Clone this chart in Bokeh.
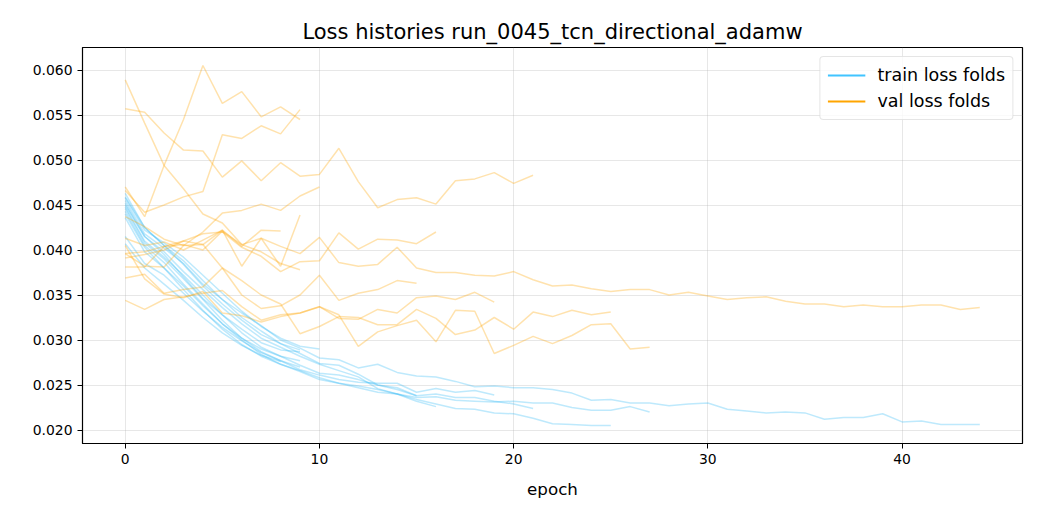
from bokeh.plotting import figure
from bokeh.models import Range1d, FixedTicker, PrintfTickFormatter, Legend, LegendItem
from bokeh.embed import file_html
from bokeh.resources import INLINE

title_text = "Loss histories run_0045_tcn_directional_adamw"
x_label = "epoch"
train_label = "train loss folds"
val_label = "val loss folds"
x_ticks = [0, 10, 20, 30, 40]
y_ticks = [0.020, 0.025, 0.030, 0.035, 0.040, 0.045, 0.050, 0.055, 0.060]

# ---- per-fold training loss ----
train_A = [0.0463, 0.0425, 0.0405, 0.0384, 0.0360, 0.0340, 0.0322, 0.0306, 0.0296, 0.0289]
train_B = [0.0448, 0.0410, 0.0392, 0.0372, 0.0350, 0.0328, 0.0308, 0.0292, 0.0282, 0.0272,
           0.0263, 0.0261, 0.0256, 0.0250, 0.0247, 0.0238, 0.0240, 0.0236, 0.0236, 0.0232,
           0.0229, 0.0224]
train_C = [0.0415, 0.0385, 0.0372, 0.0352, 0.0332, 0.0314, 0.0299, 0.0286, 0.0277, 0.0270]
train_D = [0.0436, 0.0398, 0.0380, 0.0360, 0.0338, 0.0318, 0.0302, 0.0290, 0.0282, 0.0277]
train_E = [0.0458, 0.0422, 0.0408, 0.0392, 0.0372, 0.0352, 0.0332, 0.0315, 0.0302, 0.0293, 0.0290]
train_F = [0.0407, 0.0380, 0.0362, 0.0344, 0.0325, 0.0308, 0.0294, 0.0283, 0.0276]
train_G = [0.0450, 0.0415, 0.0395, 0.0370, 0.0346, 0.0328, 0.0312, 0.0297, 0.0289, 0.0287]
train_H = [0.0452, 0.0415, 0.0398, 0.0376, 0.0356, 0.0336, 0.0318, 0.0302, 0.0292, 0.0282,
           0.0273, 0.0266, 0.0259, 0.0246, 0.0240, 0.0232, 0.0226]
train_I = [0.0455, 0.0418, 0.0402, 0.0385, 0.0362, 0.0345, 0.0330, 0.0316, 0.0300, 0.0291,
           0.0280, 0.0278, 0.0269, 0.0273, 0.0264, 0.0260, 0.0259, 0.0254, 0.0248, 0.0249,
           0.0247, 0.0247, 0.0245, 0.0241, 0.0233, 0.0234, 0.0230, 0.0230, 0.0227, 0.0229,
           0.0230, 0.0223, 0.0221, 0.0219, 0.0220, 0.0219, 0.0212, 0.0214, 0.0214, 0.0218,
           0.0209, 0.0210, 0.0206, 0.0206, 0.0206]
train_J = [0.0443, 0.0405, 0.0386, 0.0362, 0.0340, 0.0318, 0.0300, 0.0284, 0.0273, 0.0265,
           0.0256, 0.0252, 0.0247, 0.0242, 0.0240, 0.0236, 0.0237, 0.0233, 0.0232, 0.0231,
           0.0232, 0.0230, 0.0230, 0.0225, 0.0222, 0.0222, 0.0226, 0.0220]
train_K = [0.0440, 0.0403, 0.0380, 0.0356, 0.0333, 0.0312, 0.0295, 0.0282, 0.0273, 0.0266,
           0.0258, 0.0252, 0.0249, 0.0245, 0.0240, 0.0234, 0.0229, 0.0224, 0.0223, 0.0219,
           0.0218, 0.0213, 0.0207, 0.0206, 0.0205, 0.0205]
train_L = [0.0459, 0.0425, 0.0405, 0.0388, 0.0366, 0.0345, 0.0325, 0.0310, 0.0296, 0.0285,
           0.0274, 0.0272, 0.0262, 0.0250, 0.0245, 0.0238]
train_M = [0.0446, 0.0408, 0.0390, 0.0368, 0.0345, 0.0322, 0.0302, 0.0287, 0.0277, 0.0267,
           0.0261, 0.0256, 0.0253, 0.0252, 0.0252, 0.0242, 0.0246, 0.0242, 0.0244, 0.0239]

# ---- per-fold validation loss ----
val_A = [0.0589, 0.0541, 0.0494, 0.0468, 0.0440, 0.0430, 0.0406, 0.0398, 0.0385, 0.0378]
val_B = [0.0557, 0.0553, 0.0530, 0.0511, 0.0510, 0.0481, 0.0499, 0.0477, 0.0497, 0.0482,
         0.0484, 0.0513, 0.0476, 0.0447, 0.0456, 0.0458, 0.0451, 0.0477, 0.0479, 0.0486,
         0.0474, 0.0483]
val_C = [0.0470, 0.0437, 0.0494, 0.0545, 0.0605, 0.0563, 0.0576, 0.0548, 0.0559, 0.0545]
val_D = [0.0466, 0.0442, 0.0450, 0.0459, 0.0465, 0.0528, 0.0524, 0.0538, 0.0529, 0.0556]
val_E = [0.0437, 0.0426, 0.0412, 0.0405, 0.0420, 0.0441, 0.0444, 0.0451, 0.0444, 0.0460, 0.0470]
val_F = [0.0413, 0.0405, 0.0409, 0.0400, 0.0411, 0.0422, 0.0404, 0.0422, 0.0421]
val_G = [0.0396, 0.0398, 0.0404, 0.0410, 0.0406, 0.0422, 0.0382, 0.0413, 0.0382, 0.0439]
val_H = [0.0391, 0.0395, 0.0400, 0.0410, 0.0418, 0.0420, 0.0403, 0.0393, 0.0376, 0.0387,
         0.0388, 0.0419, 0.0401, 0.0412, 0.0411, 0.0407, 0.0420]
val_I = [0.0381, 0.0381, 0.0404, 0.0406, 0.0400, 0.0421, 0.0406, 0.0413, 0.0404, 0.0396,
         0.0414, 0.0386, 0.0382, 0.0384, 0.0403, 0.0380, 0.0375, 0.0375, 0.0372, 0.0371,
         0.0376, 0.0367, 0.0360, 0.0361, 0.0357, 0.0354, 0.0356, 0.0356, 0.0350, 0.0353,
         0.0349, 0.0345, 0.0347, 0.0348, 0.0343, 0.0340, 0.0340, 0.0337, 0.0339, 0.0337,
         0.0337, 0.0339, 0.0339, 0.0334, 0.0336]
val_J = [0.0405, 0.0368, 0.0351, 0.0347, 0.0354, 0.0330, 0.0327, 0.0320, 0.0326, 0.0330,
         0.0337, 0.0328, 0.0293, 0.0309, 0.0316, 0.0322, 0.0298, 0.0333, 0.0332, 0.0285,
         0.0294, 0.0304, 0.0296, 0.0305, 0.0317, 0.0318, 0.0290, 0.0292]
val_K = [0.0396, 0.0382, 0.0381, 0.0405, 0.0406, 0.0380, 0.0366, 0.0350, 0.0340, 0.0307,
         0.0315, 0.0326, 0.0325, 0.0317, 0.0317, 0.0334, 0.0324, 0.0306, 0.0311, 0.0325,
         0.0312, 0.0331, 0.0326, 0.0333, 0.0328, 0.0331]
val_L = [0.0369, 0.0373, 0.0352, 0.0356, 0.0359, 0.0380, 0.0350, 0.0335, 0.0338, 0.0350,
         0.0372, 0.0344, 0.0352, 0.0356, 0.0366, 0.0363]
val_M = [0.0344, 0.0334, 0.0345, 0.0348, 0.0352, 0.0355, 0.0337, 0.0322, 0.0328, 0.0330,
         0.0337, 0.0324, 0.0323, 0.0334, 0.0330, 0.0347, 0.0349, 0.0345, 0.0353, 0.0342]

train_folds = [train_A, train_B, train_C, train_D, train_E, train_F, train_G,
               train_H, train_I, train_J, train_K, train_L, train_M]
val_folds = [val_A, val_B, val_C, val_D, val_E, val_F, val_G,
             val_H, val_I, val_J, val_K, val_L, val_M]

FONT = "DejaVu Sans"
TRAIN_COLOR = "#29b6f6"
VAL_COLOR = "#ffa500"

p = figure(width=1024, height=504, output_backend="svg", toolbar_location=None,
           x_range=Range1d(-2.2, 46.2), y_range=Range1d(0.0185, 0.0625),
           min_border_left=82, min_border_right=2, min_border_top=47, min_border_bottom=61)

p.title.text = title_text
p.title.align = "center"
p.title.text_font = FONT
p.title.text_font_size = "21px"
p.title.text_font_style = "normal"
p.title.text_color = "black"
p.title.standoff = 8

p.outline_line_color = "black"
p.outline_line_width = 1.2
p.outline_line_alpha = 1.0
p.background_fill_color = "white"
p.border_fill_color = "white"

for ax in (p.xaxis[0], p.yaxis[0]):
    ax.major_label_text_font = FONT
    ax.major_label_text_font_size = "13.9px"
    ax.major_label_text_color = "black"
    ax.axis_line_color = "black"
    ax.major_tick_line_color = "black"
    ax.major_tick_out = 5
    ax.major_tick_in = 0
    ax.minor_tick_line_color = None
    ax.axis_label_text_font = FONT
    ax.axis_label_text_font_size = "16.7px"
    ax.axis_label_text_font_style = "normal"
    ax.axis_label_text_color = "black"

p.xaxis.ticker = FixedTicker(ticks=x_ticks)
p.yaxis.ticker = FixedTicker(ticks=y_ticks)
p.yaxis.formatter = PrintfTickFormatter(format="%.3f")
p.xaxis.axis_label = x_label
p.xaxis.axis_label_standoff = 12

p.grid.grid_line_color = "#b0b0b0"
p.grid.grid_line_alpha = 0.3
p.grid.grid_line_width = 1

train_xs = [list(range(len(f))) for f in train_folds]
val_xs = [list(range(len(f))) for f in val_folds]

p.multi_line(xs=train_xs, ys=train_folds, line_color=TRAIN_COLOR, line_alpha=0.3, line_width=1.5)
p.multi_line(xs=val_xs, ys=val_folds, line_color=VAL_COLOR, line_alpha=0.32, line_width=1.5)

# legend proxies drawn at full opacity (single NaN point: nothing visible in the plot)
nan = float("nan")
proxy_train = p.line(x=[nan], y=[nan], line_color="#40c4ff", line_width=2)
proxy_val = p.line(x=[nan], y=[nan], line_color=VAL_COLOR, line_width=2)

legend = Legend(items=[LegendItem(label=train_label, renderers=[proxy_train]),
                       LegendItem(label=val_label, renderers=[proxy_val])],
                location="top_right")
legend.label_text_font = FONT
legend.label_text_font_size = "17.5px"
legend.label_text_color = "black"
legend.glyph_width = 38
legend.glyph_height = 22
legend.label_standoff = 12
legend.spacing = 4
legend.padding = 7
legend.margin = 9
legend.border_line_color = "#cccccc"
legend.border_line_width = 1
legend.border_radius = 4
legend.background_fill_color = "white"
legend.background_fill_alpha = 0.8
p.add_layout(legend)

open("out.html", "w").write(file_html(p, INLINE))
